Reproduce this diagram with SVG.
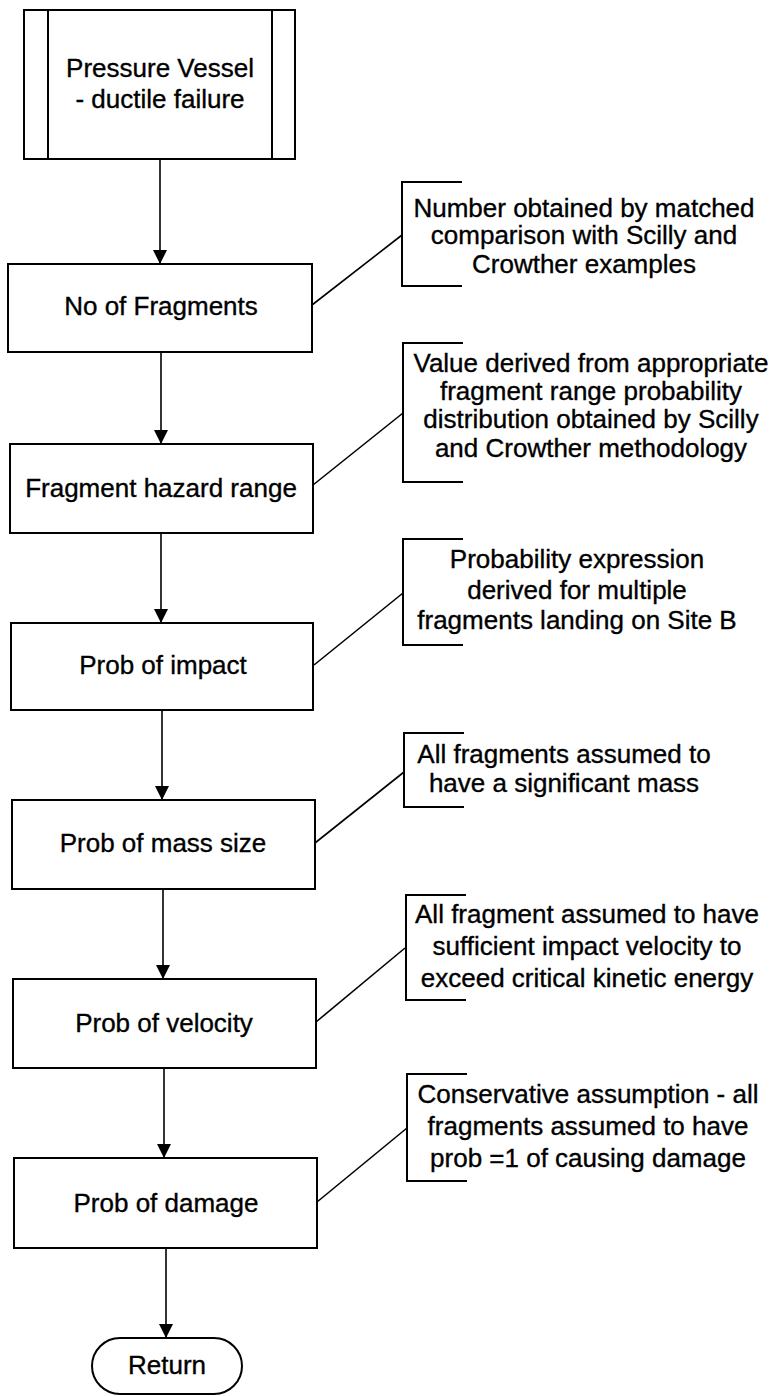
<svg xmlns="http://www.w3.org/2000/svg" width="779" height="1396" viewBox="0 0 779 1396">
  <style>
    .box { fill: #fff; stroke: #000; stroke-width: 2; }
    .lbl { font-family: "Liberation Sans", Arial, sans-serif; font-size: 26px; fill: #000; stroke: #000; stroke-width: 0.35; text-anchor: middle; }
    .flow { fill: none; stroke: #000; stroke-width: 1.6; }
    .lead { fill: none; stroke: #000; stroke-width: 1.6; }
    .brk { fill: none; stroke: #000; stroke-width: 2; }
  </style>
  <defs>
    <marker id="arrow" markerUnits="userSpaceOnUse" markerWidth="16" markerHeight="16" refX="14" refY="7" orient="auto">
      <path d="M0,0 L14,7 L0,14 Z" fill="#000"/>
    </marker>
  </defs>
  <rect width="779" height="1396" fill="#fff"/>

  <!-- flow connectors -->
  <g id="connectors">
    <line class="flow" x1="160" y1="159" x2="160" y2="264" marker-end="url(#arrow)"/>
    <line class="flow" x1="161" y1="352" x2="161" y2="444" marker-end="url(#arrow)"/>
    <line class="flow" x1="161" y1="533" x2="161" y2="623" marker-end="url(#arrow)"/>
    <line class="flow" x1="162" y1="710" x2="162" y2="800" marker-end="url(#arrow)"/>
    <line class="flow" x1="163" y1="889" x2="163" y2="979" marker-end="url(#arrow)"/>
    <line class="flow" x1="164" y1="1068" x2="164" y2="1158" marker-end="url(#arrow)"/>
    <line class="flow" x1="166" y1="1248" x2="166" y2="1338" marker-end="url(#arrow)"/>
    <!-- annotation leaders -->
    <line class="lead" x1="312" y1="305" x2="402" y2="235"/>
    <line class="lead" x1="313" y1="485" x2="403" y2="413"/>
    <line class="lead" x1="314" y1="665" x2="403" y2="593"/>
    <line class="lead" x1="315" y1="843" x2="404" y2="772"/>
    <line class="lead" x1="316" y1="1022" x2="405" y2="948"/>
    <line class="lead" x1="317" y1="1202" x2="407" y2="1128"/>
  </g>

  <!-- predefined process -->
  <g id="pressure-vessel">
    <rect class="box" x="24" y="10" width="271" height="149"/>
    <line class="box" x1="48" y1="10" x2="48" y2="159"/>
    <line class="box" x1="272" y1="10" x2="272" y2="159"/>
    <text class="lbl" x="160" y="77">Pressure Vessel</text>
    <text class="lbl" x="160" y="108">- ductile failure</text>
  </g>

  <g id="no-of-fragments">
    <rect class="box" x="8" y="264" width="304" height="88"/>
    <text class="lbl" x="161" y="315">No of Fragments</text>
  </g>

  <g id="fragment-hazard-range">
    <rect class="box" x="10" y="444" width="303" height="89"/>
    <text class="lbl" x="161" y="497">Fragment hazard range</text>
  </g>

  <g id="prob-impact">
    <rect class="box" x="11" y="623" width="302" height="87"/>
    <text class="lbl" x="163" y="674">Prob of impact</text>
  </g>

  <g id="prob-mass">
    <rect class="box" x="12" y="800" width="303" height="89"/>
    <text class="lbl" x="163" y="852">Prob of mass size</text>
  </g>

  <g id="prob-velocity">
    <rect class="box" x="13" y="979" width="303" height="89"/>
    <text class="lbl" x="164" y="1032">Prob of velocity</text>
  </g>

  <g id="prob-damage">
    <rect class="box" x="14" y="1158" width="303" height="90"/>
    <text class="lbl" x="166" y="1212">Prob of damage</text>
  </g>

  <g id="return">
    <rect class="box" x="92" y="1338" width="150" height="56" rx="28" ry="28"/>
    <text class="lbl" x="167" y="1374">Return</text>
  </g>

  <!-- annotations -->
  <g id="note-fragments">
    <path class="brk" d="M462,182 H402 V286 H462"/>
    <text class="lbl" x="584" y="217">Number obtained by matched</text>
    <text class="lbl" x="584" y="244">comparison with Scilly and</text>
    <text class="lbl" x="584" y="273">Crowther examples</text>
  </g>

  <g id="note-range">
    <path class="brk" d="M463,343 H403 V482 H463"/>
    <text class="lbl" x="591" y="372">Value derived from appropriate</text>
    <text class="lbl" x="591" y="400">fragment range probability</text>
    <text class="lbl" x="591" y="428">distribution obtained by Scilly</text>
    <text class="lbl" x="591" y="457">and Crowther methodology</text>
  </g>

  <g id="note-impact">
    <path class="brk" d="M463,539 H403 V645 H463"/>
    <text class="lbl" x="577" y="568">Probability expression</text>
    <text class="lbl" x="577" y="599">derived for multiple</text>
    <text class="lbl" x="577" y="629">fragments landing on Site B</text>
  </g>

  <g id="note-mass">
    <path class="brk" d="M464,733 H404 V807 H464"/>
    <text class="lbl" x="564" y="763">All fragments assumed to</text>
    <text class="lbl" x="564" y="792">have a significant mass</text>
  </g>

  <g id="note-velocity">
    <path class="brk" d="M466,895 H406 V1000 H466"/>
    <text class="lbl" x="587" y="923">All fragment assumed to have</text>
    <text class="lbl" x="587" y="955">sufficient impact velocity to</text>
    <text class="lbl" x="587" y="987">exceed critical kinetic energy</text>
  </g>

  <g id="note-damage">
    <path class="brk" d="M467,1074 H407 V1181 H467"/>
    <text class="lbl" x="588" y="1103">Conservative assumption - all</text>
    <text class="lbl" x="588" y="1135">fragments assumed to have</text>
    <text class="lbl" x="588" y="1167">prob =1 of causing damage</text>
  </g>
</svg>
